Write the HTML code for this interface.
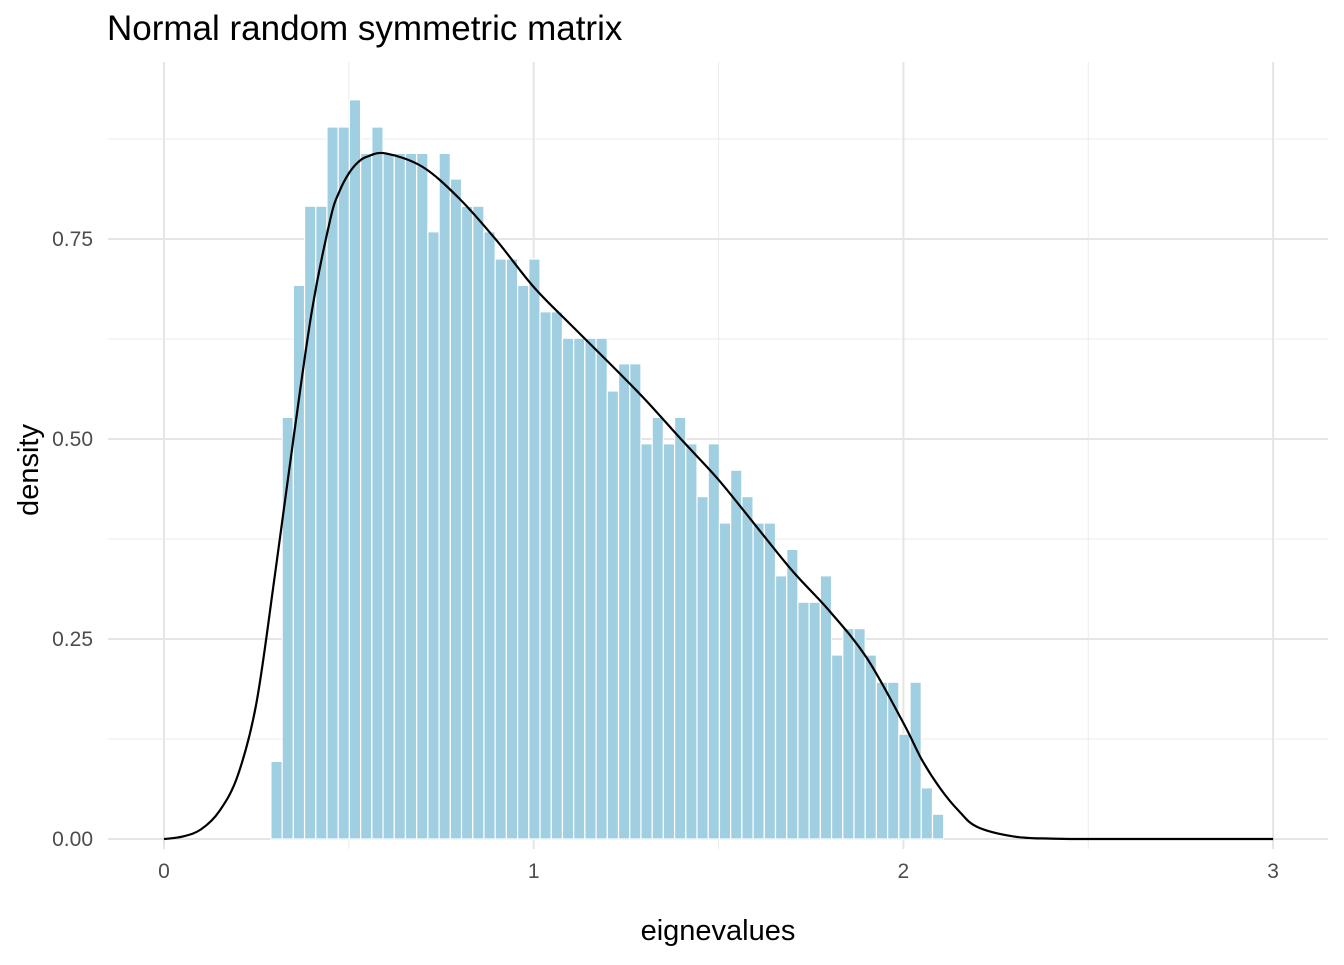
<!DOCTYPE html>
<html><head><meta charset="utf-8"><style>
html,body{margin:0;padding:0;background:#fff;}
svg text{font-family:"Liberation Sans",Arial,sans-serif;}
</style></head><body>
<svg id="chart" width="1344" height="960" viewBox="0 0 1344 960" xmlns="http://www.w3.org/2000/svg">
<text x="107" y="40" font-size="35" fill="#000">Normal random symmetric matrix</text>
<g id="grid"></g>
<g id="bars"></g>
<g id="curve"></g>
<g id="axes"></g>
<text x="718" y="940" font-size="29" text-anchor="middle" fill="#000">eignevalues</text>
<text transform="translate(38,470) rotate(-90)" font-size="29" text-anchor="middle" fill="#000">density</text>
</svg>
<script>
const binStart = 0.2892;
const binWidth = 0.03033;
const barHeights = [0.097,0.527,0.692,0.791,0.791,0.89,0.89,0.924,0.857,0.89,0.857,0.857,0.857,0.857,0.759,0.857,0.825,0.791,0.791,0.759,0.725,0.725,0.692,0.725,0.659,0.659,0.626,0.626,0.626,0.626,0.56,0.594,0.594,0.494,0.527,0.494,0.527,0.494,0.428,0.494,0.395,0.461,0.428,0.395,0.395,0.329,0.362,0.296,0.296,0.329,0.23,0.263,0.263,0.23,0.196,0.196,0.131,0.196,0.064,0.031];
const curveX = [0,0.05,0.1,0.15,0.2,0.25,0.3,0.35,0.4,0.45,0.475,0.5,0.525,0.55,0.6,0.7,0.8,0.9,1.0,1.1,1.2,1.3,1.4,1.5,1.6,1.7,1.8,1.9,2.0,2.05,2.1,2.15,2.2,2.3,2.4,2.5,2.75,3.0];
const curveY = [0,0.003,0.012,0.035,0.08,0.17,0.33,0.5,0.66,0.775,0.81,0.832,0.846,0.853,0.857,0.84,0.80,0.748,0.69,0.643,0.597,0.55,0.499,0.449,0.392,0.335,0.285,0.227,0.145,0.099,0.063,0.035,0.015,0.003,0.0005,0,0,0];
const xTicks = [0,1,2,3];
const xTickLabels = ["0","1","2","3"];
const yTicks = [0,0.25,0.5,0.75];
const yTickLabels = ["0.00","0.25","0.50","0.75"];
const xMinor = [0.5,1.5,2.5];
const yMinor = [0.125,0.375,0.625,0.875];

const NS="http://www.w3.org/2000/svg";
const X0=164, XS=369.7, Y0=839, YS=800;
const PL=108, PR=1328, PT=62, PB=849;
function sx(v){return X0+v*XS;}
function sy(v){return Y0-v*YS;}
function mk(tag,attrs,parent){const e=document.createElementNS(NS,tag);for(const k in attrs)e.setAttribute(k,attrs[k]);parent.appendChild(e);return e;}

const grid=document.getElementById('grid');
yMinor.forEach(v=>{const l=mk('line',{x1:PL,x2:PR,y1:sy(v),y2:sy(v),stroke:'#ebebeb','stroke-width':1},grid);

});
xMinor.forEach(v=>{const l=mk('line',{x1:sx(v),x2:sx(v),y1:PT,y2:PB,stroke:'#ebebeb','stroke-width':1},grid);

});
yTicks.forEach(v=>{const l=mk('line',{x1:PL,x2:PR,y1:sy(v),y2:sy(v),stroke:'#e5e5e5','stroke-width':2},grid);

});
xTicks.forEach(v=>{const l=mk('line',{x1:sx(v),x2:sx(v),y1:PT,y2:PB,stroke:'#e5e5e5','stroke-width':2},grid);

});

const bars=document.getElementById('bars');
barHeights.forEach((h,i)=>{const x1=sx(binStart+i*binWidth), x2=sx(binStart+(i+1)*binWidth);
const r=mk('rect',{x:x1,y:sy(h),width:x2-x1,height:Y0-sy(h),fill:'#a0cfe1',stroke:'#ffffff','stroke-width':1.2},bars);

});

const pts=curveX.map((v,i)=>[sx(v),sy(curveY[i])]);
let d='M'+pts[0][0]+','+pts[0][1];
for(let i=0;i<pts.length-1;i++){const p0=pts[i-1]||pts[i],p1=pts[i],p2=pts[i+1],p3=pts[i+2]||p2;
const c1=[p1[0]+(p2[0]-p0[0])/6,p1[1]+(p2[1]-p0[1])/6],c2=[p2[0]-(p3[0]-p1[0])/6,p2[1]-(p3[1]-p1[1])/6];
d+=' C'+c1[0]+','+c1[1]+' '+c2[0]+','+c2[1]+' '+p2[0]+','+p2[1];}
const path=mk('path',{d:d,fill:'none',stroke:'#000','stroke-width':2.2},document.getElementById('curve'));



const axes=document.getElementById('axes');
xTicks.forEach((v,i)=>{const t=mk('text',{x:sx(v),y:878,'font-size':21,'text-anchor':'middle',fill:'#4d4d4d'},axes);t.textContent=xTickLabels[i];

});
yTicks.forEach((v,i)=>{const t=mk('text',{x:93,y:sy(v)+7,'font-size':21,'text-anchor':'end',fill:'#4d4d4d'},axes);t.textContent=yTickLabels[i];

});
</script>
</body></html>
